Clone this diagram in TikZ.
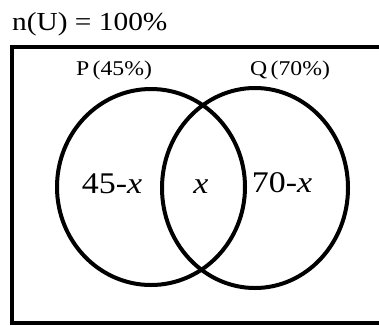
\documentclass[tikz,border=0pt]{standalone}
\usepackage{fontspec}
\setmainfont[FakeStretch=1.13]{Liberation Serif}
\begin{document}
\begin{tikzpicture}[x=1pt,y=-1pt,
  setline/.style={line width=4pt},
  boxline/.style={line width=3.5pt},
  lbl/.style={inner sep=0pt,anchor=base},
  big/.style={lbl,font=\fontsize{30}{34}\selectfont},
  mid/.style={lbl,font=\fontsize{21}{25}\selectfont}]
\useasboundingbox (0,0) rectangle (379,325);
\begin{scope}
\clip (0,0) rectangle (379,325);
\draw[boxline] (390,47) -- (12,47) -- (12,323) -- (390,323);
\end{scope}
\node[lbl,anchor=base west,font=\fontsize{26}{30}\selectfont] (title) at (12,30) {n(U) = 100\%};
\draw[setline] (151,187) ellipse [x radius=94, y radius=98];
\draw[setline] (255,188) ellipse [x radius=93, y radius=100];
\node[mid] (P) at (114,75) {P\,(45\%)};
\node[mid] (Q) at (290,75) {Q\,(70\%)};
\node[big] (a) at (112,193) {45-\textit{x}};
\node[big] (b) at (201,193) {\textit{x}};
\node[big] (c) at (282,192) {70-\textit{x}};
\end{tikzpicture}
\end{document}
